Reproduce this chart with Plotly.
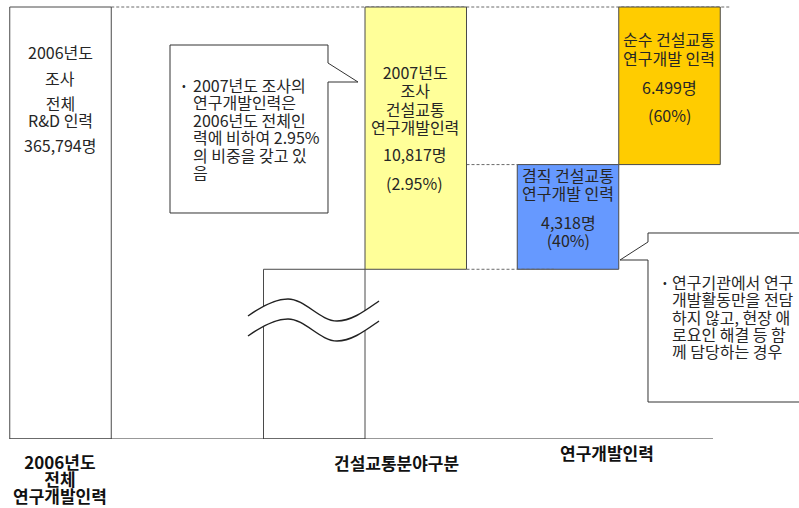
import plotly.graph_objects as go

# ---- data -------------------------------------------------------------
categories = [
    "2006년도 전체 R&D 인력",
    "2007년도 조사 건설교통 연구개발인력",
    "겸직 건설교통 연구개발 인력",
    "순수 건설교통 연구개발 인력",
]
values = [365794, 10817, 4318, 6499]
value_labels = ["365,794명", "10,817명", "4,318명", "6.499명"]
share_labels = ["", "(2.95%)", "(40%)", "(60%)"]
axis_labels = ["2006년도", "전체", "연구개발인력", "건설교통분야구분", "연구개발인력"]
note_left = ["2007년도 조사의", "연구개발인력은", "2006년도 전체인",
             "력에 비하여 2.95%", "의 비중을 갖고 있", "음"]
note_right = ["연구기관에서 연구", "개발활동만을 전담", "하지 않고, 현장 애",
              "로요인 해결 등 함", "께 담당하는 경우"]

# ---- layout constants ------------------------------------------------
W, H = 799, 508
PLOT_H = 439                 # plot area height (bottom margin holds labels)
BREAK = 7000                 # height of the broken (omitted) lower segment
FONT = "Noto Sans CJK KR"
TXT = "#262626"
EDGE = "#4a4a4a"
LINE_SPACING = 1.3           # plotly's line pitch, in em of the annotation font

top_value = BREAK + values[1]
y_top = top_value / (1 - 7 / PLOT_H)
unit_px, center0 = 101.5, 60.5
x_left = -center0 / unit_px
x_right = (W - center0) / unit_px


def px_x(p):
    return p / W


def px_y(p):
    return (PLOT_H - p) / PLOT_H


fig = go.Figure()


def add_bar(x, base, height, color):
    fig.add_trace(go.Bar(
        x=[x], y=[height], base=[base], width=1,
        marker=dict(color=color, line=dict(color=EDGE, width=1)),
        hoverinfo="skip", showlegend=False,
    ))


# total R&D staff (axis broken, so it shares the top with the 2007 bar)
add_bar(0, 0, BREAK + values[1], "white")
# lower broken part of the 2007 bar
add_bar(2.5, 0, BREAK, "white")
# 2007 construction/transport R&D staff
add_bar(3.5, BREAK, values[1], "#FFFF99")
# concurrent staff
add_bar(5, BREAK, values[2], "#6699FF")
# dedicated staff, stacked on top of the concurrent staff
add_bar(6, BREAK + values[2], values[3], "#FFCC00")

shapes = []
dash = dict(color="#6a6a6a", width=1, dash="3px,2px")
# connector lines
shapes.append(dict(type="line", xref="x", yref="y", x0=0.5, x1=6.6,
                   y0=top_value, y1=top_value, line=dash, layer="below"))
shapes.append(dict(type="line", xref="x", yref="y", x0=4, x1=4.5,
                   y0=BREAK + values[2], y1=BREAK + values[2], line=dash, layer="below"))
shapes.append(dict(type="line", xref="x", yref="y", x0=4, x1=4.86,
                   y0=BREAK, y1=BREAK, line=dash, layer="above"))
# baseline
shapes.append(dict(type="line", xref="x", yref="y", x0=-0.5, x1=(713 - center0) / unit_px,
                   y0=0, y1=0, line=dict(color="#333333", width=1.2)))


def path(points, close=True):
    s = "M " + " L ".join(f"{px_x(a):.5f},{px_y(b):.5f}" for a, b in points)
    return s + (" Z" if close else "")


# speech-bubble callouts
shapes.append(dict(type="path", xref="paper", yref="paper",
                   path=path([(328, 63), (328, 45), (170, 45), (170, 213),
                              (328, 213), (328, 82), (358, 82)]),
                   fillcolor="white", line=dict(color="#333333", width=1)))
shapes.append(dict(type="path", xref="paper", yref="paper",
                   path=path([(648, 242), (648, 233), (815, 233), (815, 402),
                              (648, 402), (648, 260), (620, 260)]),
                   fillcolor="white", line=dict(color="#333333", width=1)))


# axis-break mark: two wavy strokes with a white gap between them
def wave(dy):
    pts = [(248, 316), (262, 306), (275, 299), (288, 299),
           (305, 299), (320, 321), (337, 321),
           (352, 321), (366, 310), (379, 301)]
    return [(a, b + dy) for a, b in pts]


def bez(pts, start="M"):
    p = [f"{px_x(a):.5f},{px_y(b):.5f}" for a, b in pts]
    return f"{start} {p[0]} C {p[1]} {p[2]} {p[3]} C {p[4]} {p[5]} {p[6]} C {p[7]} {p[8]} {p[9]}"


up, lo = wave(0), wave(20)
band = bez(up) + " " + bez(lo[::-1], start="L") + " Z"
shapes.append(dict(type="path", xref="paper", yref="paper", path=band,
                   fillcolor="white", line=dict(width=0)))
for w in (up, lo):
    shapes.append(dict(type="path", xref="paper", yref="paper", path=bez(w),
                       line=dict(color="#222222", width=1.5)))

annotations = []


def label(lines, x, y_first, pitch=17.5, size=16, bold=False, anchor="center"):
    """One text block; line pitch set by the block font, glyph size by spans."""
    if isinstance(lines, str):
        lines = [lines]
    n = len(lines)
    text = "<br>".join(f"<span style='font-size:{size}px'>{t}</span>" for t in lines)
    y_mid = y_first + pitch * (n - 1) / 2
    annotations.append(dict(
        text=text, x=px_x(x), y=px_y(y_mid), xref="paper", yref="paper",
        xanchor=anchor, yanchor="middle", align=anchor, showarrow=False,
        borderpad=0,
        font=dict(family=FONT, size=pitch / LINE_SPACING,
                  color="#111111" if bold else TXT,
                  weight="bold" if bold else "normal"),
    ))


# texts inside the bars
label("2006년도", 60, 52)
label("조사", 60, 78)
label(["전체", "R&D 인력"], 60, 103, pitch=17)
label(value_labels[0], 60, 145)

label(["2007년도", "조사", "건설교통", "연구개발인력"], 415, 72, pitch=18.3)
label(value_labels[1], 415, 154)
label(share_labels[1], 415, 183)

label(["겸직 건설교통", "연구개발 인력"], 568, 175, pitch=18)
label([value_labels[2], share_labels[2]], 568, 222, pitch=18)

label(["순수 건설교통", "연구개발 인력"], 669, 39, pitch=19)
label(value_labels[3], 669, 87)
label(share_labels[3], 669, 115)

# callout notes
label("•", 181, 85, size=11, anchor="left")
label(note_left, 192, 85, pitch=17.4, anchor="left")
label("•", 662, 282, size=11, anchor="left")
label(note_right, 671, 282, pitch=17.3, anchor="left")

# category labels under the baseline
label(axis_labels[:3], 60, 461, pitch=17, size=17, bold=True)
label(axis_labels[3], 396, 462, size=17, bold=True)
label(axis_labels[4], 607, 452, size=17, bold=True)

fig.update_layout(
    width=W, height=H, autosize=False,
    margin=dict(l=0, r=0, t=0, b=H - PLOT_H, pad=0),
    paper_bgcolor="white", plot_bgcolor="white",
    barmode="overlay",
    xaxis=dict(range=[x_left, x_right], visible=False, fixedrange=True),
    yaxis=dict(range=[0, y_top], visible=False, fixedrange=True),
    shapes=shapes, annotations=annotations,
    font=dict(family=FONT),
)

fig.write_html("out.html")
